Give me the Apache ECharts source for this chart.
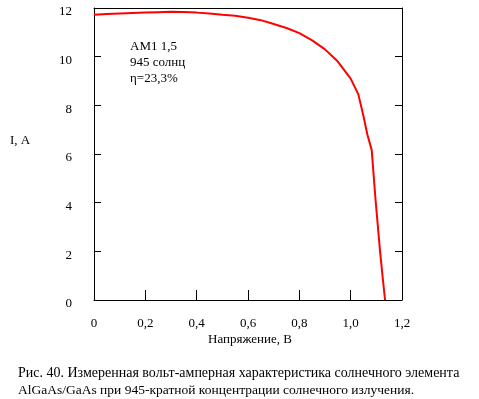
<!DOCTYPE html>
<html><head><meta charset="utf-8">
<script src="https://cdn.jsdelivr.net/npm/echarts@6/dist/echarts.min.js"></script>
<style>html,body{margin:0;padding:0;background:#fff}#c{width:479px;height:399px}</style>
</head><body><div id="c"></div>
<script>
var voltage = [0, 0.05, 0.1, 0.15, 0.2, 0.25, 0.3, 0.35, 0.4, 0.45, 0.5, 0.55, 0.6, 0.65, 0.7, 0.75, 0.8, 0.85, 0.9, 0.95, 1.0, 1.03, 1.05, 1.065, 1.082, 1.097, 1.114, 1.125, 1.134];
var current = [11.72, 11.75, 11.77, 11.79, 11.81, 11.83, 11.85, 11.84, 11.81, 11.77, 11.72, 11.68, 11.6, 11.5, 11.34, 11.18, 10.97, 10.67, 10.3, 9.8, 9.1, 8.45, 7.55, 6.8, 6.16, 4.11, 2.06, 0.9, 0];
var xTicks = [0, 0.2, 0.4, 0.6, 0.8, 1.0, 1.2];
var yTicks = [0, 2, 4, 6, 8, 10, 12];
var noteLines = ['АМ1 1,5', '945 солнц', 'η=23,3%'];
var xName = 'Напряжение, В';
var yName = 'I, A';
var caption = ['Рис. 40. Измеренная вольт-амперная характеристика солнечного элемента',
               'AlGaAs/GaAs при 945-кратной концентрации солнечного излучения.'];

var F = 'Liberation Serif, Times New Roman, serif';
var data = voltage.map(function (v, i) { return [v, current[i]]; });
var chart = echarts.init(document.getElementById('c'), null, {renderer: 'canvas'});
var axisLine = {show: true, onZero: false, lineStyle: {color: '#000', width: 1}};
chart.setOption({
  animation: false,
  backgroundColor: '#fff',
  grid: {left: 94, top: 8, width: 308, height: 292, containLabel: false},
  xAxis: [{
    type: 'value', min: 0, max: 1.2, interval: 0.2,
    axisLine: axisLine,
    axisTick: {show: true, inside: true, length: 10, lineStyle: {color: '#000'}},
    splitLine: {show: false},
    axisLabel: {color: '#000', fontFamily: F, fontSize: 13, margin: 17,
      formatter: function (v) { return v.toFixed(v === 0 ? 0 : 1).replace('.', ','); }}
  }, {
    type: 'value', position: 'top', min: 0, max: 1.2, interval: 0.2,
    axisLine: axisLine, axisTick: {show: false}, axisLabel: {show: false}, splitLine: {show: false}
  }],
  yAxis: [{
    type: 'value', min: 0, max: 12, interval: 2,
    axisLine: axisLine,
    axisTick: {show: true, inside: true, length: 7, lineStyle: {color: '#000'}},
    splitLine: {show: false},
    axisLabel: {color: '#000', fontFamily: F, fontSize: 13, margin: 22,
      formatter: function (v) { return '{a|' + v + '}'; },
      rich: {a: {fontFamily: F, fontSize: 13, color: '#000', padding: [8, 0, 0, 0]}}}
  }, {
    type: 'value', position: 'right', min: 0, max: 12, interval: 2,
    axisLine: axisLine,
    axisTick: {show: true, inside: true, length: 7, lineStyle: {color: '#000'}},
    axisLabel: {show: false}, splitLine: {show: false}
  }],
  series: [{
    type: 'line', data: data, showSymbol: false, smooth: false,
    lineStyle: {color: '#ff0000', width: 2}, itemStyle: {color: '#ff0000'}
  }],
  graphic: [
    {type: 'text', left: 10, top: 134, style: {text: yName, font: '13px ' + F, fill: '#000'}},
    {type: 'text', left: 208, top: 333, style: {text: xName, font: '13px ' + F, fill: '#000'}},
    {type: 'text', left: 130, top: 40, style: {text: noteLines[0], font: '13px ' + F, fill: '#000'}},
    {type: 'text', left: 130, top: 56, style: {text: noteLines[1], font: '13px ' + F, fill: '#000'}},
    {type: 'text', left: 130, top: 72, style: {text: noteLines[2], font: '13px ' + F, fill: '#000'}},
    {type: 'text', left: 18, top: 366, style: {text: caption[0], font: '14px ' + F, fill: '#000'}},
    {type: 'text', left: 18, top: 383, style: {text: caption[1], font: '13.5px ' + F, fill: '#000'}}
  ]
});
</script></body></html>
